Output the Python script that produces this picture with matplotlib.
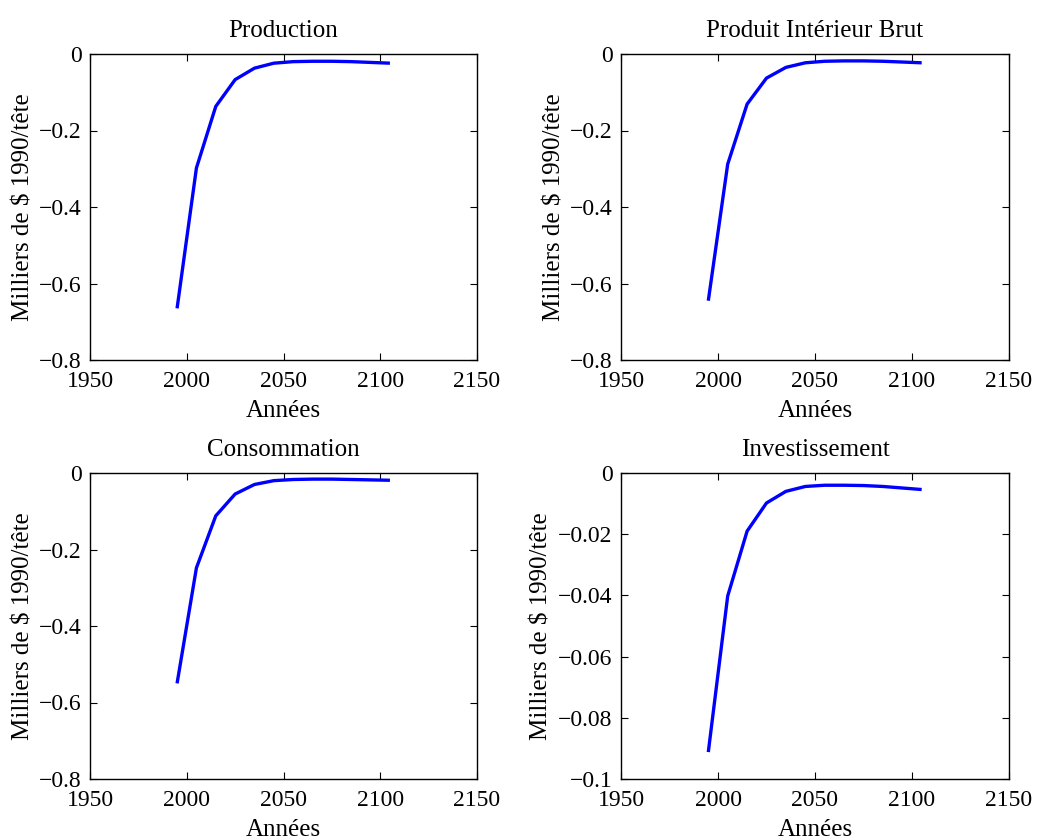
import matplotlib
matplotlib.use("Agg")
import matplotlib.pyplot as plt

plt.rcParams['font.family'] = ['Liberation Serif', 'DejaVu Serif']
plt.rcParams['text.parse_math'] = False

years = [1995, 2005, 2015, 2025, 2035, 2045, 2055, 2065, 2075, 2085, 2095, 2105]
production = [-0.665, -0.298, -0.137, -0.067, -0.037, -0.024, -0.020, -0.019, -0.019, -0.020, -0.022, -0.024]
pib = [-0.645, -0.288, -0.131, -0.063, -0.035, -0.023, -0.019, -0.018, -0.018, -0.019, -0.021, -0.023]
consommation = [-0.550, -0.248, -0.112, -0.055, -0.030, -0.020, -0.017, -0.016, -0.016, -0.017, -0.018, -0.019]
investissement = [-0.0912, -0.0402, -0.0190, -0.0098, -0.0060, -0.0044, -0.0040, -0.0040, -0.0041, -0.0044, -0.0049, -0.0054]

titles = ["Production", "Produit Intérieur Brut", "Consommation", "Investissement"]
series = [production, pib, consommation, investissement]

xticks = [1950, 2000, 2050, 2100, 2150]
yticks_main = [0, -0.2, -0.4, -0.6, -0.8]
yticklabels_main = ["0", "\u22120.2", "\u22120.4", "\u22120.6", "\u22120.8"]
yticks_inv = [0, -0.02, -0.04, -0.06, -0.08, -0.1]
yticklabels_inv = ["0", "\u22120.02", "\u22120.04", "\u22120.06", "\u22120.08", "\u22120.1"]

xlabel = "Années"
ylabel = "Milliers de $ 1990/tête"

W, H = 1037, 840
fig = plt.figure(figsize=(W / 100, H / 100), dpi=100)

# axes boxes in pixels: left, top, right, bottom
boxes = [(90, 54, 477, 360), (621, 54, 1009, 360), (90, 473, 477, 779), (621, 473, 1009, 779)]

fs = 17
fl = 18
for i, (l, t, r, b) in enumerate(boxes):
    ax = fig.add_axes([l / W, 1 - b / H, (r - l) / W, (b - t) / H])
    ax.plot(years, series[i], color=(0, 0, 1), lw=2.4, solid_capstyle='butt')
    ax.set_xlim(1950, 2150)
    ax.set_xticks(xticks)
    ax.set_xticklabels([str(x) for x in xticks])
    if i == 3:
        ax.set_ylim(-0.1, 0)
        ax.set_yticks(yticks_inv)
        ax.set_yticklabels(yticklabels_inv)
    else:
        ax.set_ylim(-0.8, 0)
        ax.set_yticks(yticks_main)
        ax.set_yticklabels(yticklabels_main)
    ax.tick_params(direction='in', top=True, right=True, labelsize=fs, length=5, width=0.8)
    ax.tick_params(axis='x', pad=8)
    ax.tick_params(axis='y', pad=6)
    for s in ax.spines.values():
        s.set_linewidth(1.0)
    ax.set_title(titles[i], fontsize=fl, pad=12)
    ax.set_xlabel(xlabel, fontsize=fl, labelpad=6)
    ax.set_ylabel(ylabel, fontsize=fl, labelpad=4 if i == 3 else 3)

fig.savefig("out.png", dpi=100)
